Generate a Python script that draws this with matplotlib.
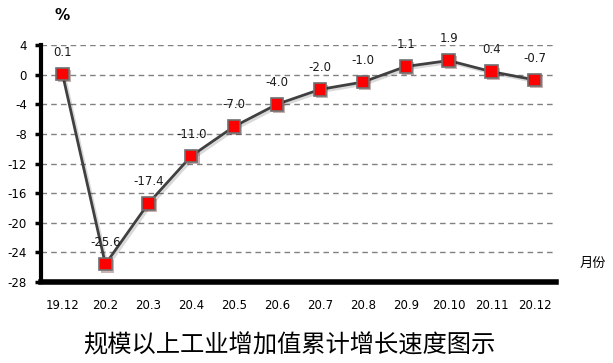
import matplotlib
matplotlib.use("Agg")
import matplotlib.pyplot as plt
import matplotlib.patheffects as pe
import numpy as np

plt.rcParams['font.family'] = ['DejaVu Sans', 'Noto Sans CJK SC']

months = ["19.12", "20.2", "20.3", "20.4", "20.5", "20.6", "20.7", "20.8",
          "20.9", "20.10", "20.11", "20.12"]
growth = [0.1, -25.6, -17.4, -11.0, -7.0, -4.0, -2.0, -1.0, 1.1, 1.9, 0.4, -0.7]
yticks = [4, 0, -4, -8, -12, -16, -20, -24, -28]

fig = plt.figure(figsize=(6.13, 3.63), dpi=100)
ax = fig.add_axes([0.0669, 0.2231, 0.8401, 0.6529])

x = np.arange(len(months))
ax.plot(x, growth, color="#404040", lw=2, zorder=3,
        path_effects=[pe.SimpleLineShadow(offset=(1.5, -1.5), alpha=0.15), pe.Normal()])
ax.plot(x, growth, ls="none", marker="s", markersize=9,
        markerfacecolor="#ff0000", markeredgecolor="#707070", markeredgewidth=1.2,
        path_effects=[pe.SimplePatchShadow(offset=(1.5, -1.5), alpha=0.3), pe.Normal()],
        zorder=4)

for xi, v in zip(x, growth):
    ax.annotate(f"{v:.1f}", (xi, v), xytext=(0, 11), textcoords="offset points",
                ha="center", va="bottom", fontsize=8.5, color="#1a1a1a")

ax.set_xlim(-0.5, len(months) - 0.5)
ax.set_ylim(-28, 4)
ax.set_yticks(yticks)
ax.set_yticklabels([str(t) for t in yticks])
ax.set_xticks(x)
ax.set_xticklabels(months)
ax.tick_params(axis="y", length=4, width=2.5, labelsize=8.5, pad=6)
ax.tick_params(axis="x", length=0, labelsize=8.5, pad=12)

for t in yticks[:-1]:
    ax.axhline(t, color="#808080", lw=1, ls=(0, (4, 3)), zorder=1)

ax.spines["top"].set_visible(False)
ax.spines["right"].set_visible(False)
ax.spines["left"].set_linewidth(3)
ax.spines["bottom"].set_linewidth(4)

fig.text(62 / 613, 1 - 15 / 363, "%", fontsize=11, fontweight="bold",
         ha="center", va="center")
fig.text(593 / 613, 1 - 263 / 363, "月份", fontsize=9.5, ha="center", va="center",
         family=["Noto Sans CJK SC", "DejaVu Sans"])
fig.text(289 / 613, 1 - 346 / 363, "规模以上工业增加值累计增长速度图示",
         fontsize=17.5, ha="center", va="center", fontweight="medium",
         family=["Noto Sans CJK SC", "DejaVu Sans"])

fig.savefig("out.png", dpi=100)
